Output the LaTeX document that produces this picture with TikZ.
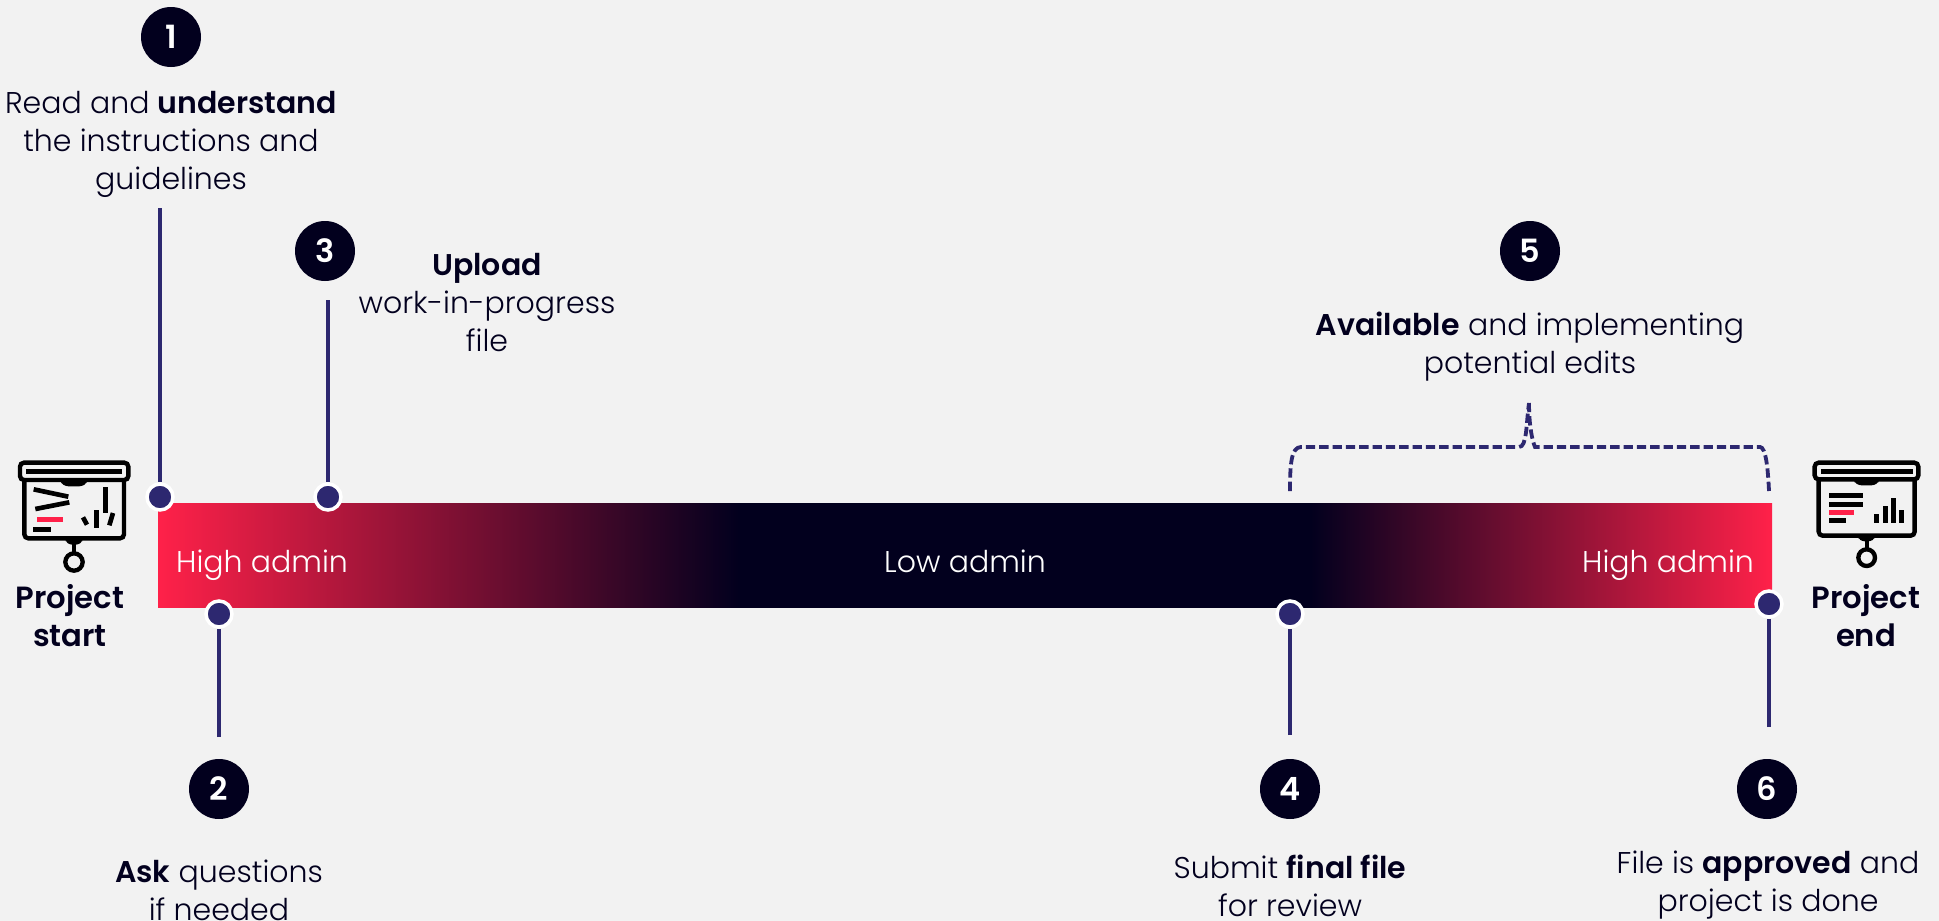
\documentclass[tikz,border=0pt]{standalone}
\usepackage{fontspec}
\setmainfont{Poppins Light}[BoldFont={Poppins SemiBold}]
\definecolor{bgc}{HTML}{F2F2F2}
\definecolor{inkc}{HTML}{02001E}
\definecolor{redc}{HTML}{FF2149}
\definecolor{navyc}{HTML}{2D2870}
\pgfdeclarehorizontalshading{barshade}{100bp}{color(0bp)=(redc); color(25bp)=(redc); color(43bp)=(inkc); color(60.69bp)=(inkc); color(75bp)=(redc); color(100bp)=(redc)}
\tikzset{
 badge/.style={circle,fill=inkc,text=white,minimum size=60*0.75pt,inner sep=0pt,font=\fontsize{24}{24}\selectfont\bfseries},
 dot/.style={circle,fill=navyc,draw=white,line width=3.5*0.75pt,minimum size=26*0.75pt,inner sep=0pt},
 stem/.style={draw=navyc,line width=4.8*0.75pt},
 dashline/.style={draw=navyc,line width=3.8*0.75pt,dash pattern=on 7pt off 3pt},
 txt/.style={text=inkc,align=center,inner sep=0pt,font=\fontsize{22.5}{28.5}\selectfont},
 bartxt/.style={text=white,inner sep=0pt,font=\fontsize{22.5}{28.5}\selectfont},
 ptxt/.style={text=inkc,align=center,inner sep=0pt,font=\fontsize{23}{28.5}\selectfont\bfseries},
 icl/.style={draw=black,line width=4.4*0.75pt,rounded corners=3pt},
 icf/.style={fill=black},
 icr/.style={fill=redc},
}
\begin{document}
\begin{tikzpicture}[x=0.75pt,y=-0.75pt]
\path[use as bounding box,fill=bgc] (0,0) rectangle (1939,921);
% bar
\shade[shading=barshade] (158,503) rectangle (1772,607);
\node[bartxt] (h1) at (262,565) {High admin};
\node[bartxt] (lo) at (965,561) {Low admin};
\node[bartxt] (h2) at (1668,565) {High admin};
% left icon
\begin{scope}[shift={(0,440)},x=0.25pt,y=-0.25pt]
\draw[icl] (73,120) -- (73,295) -- (372,295) -- (372,120);
\draw[icl,fill=bgc] (60,68) rectangle (385,120);
\fill[icf] (78,87) rectangle (366,103);
\fill[icf,rounded corners=2pt] (183,122) -- (260,122) -- (260,130) -- (245,139) -- (198,139) -- (183,130) -- cycle;
\draw[black,line width=14*0.25pt] (106,207) -- (208,187);
\draw[black,line width=14*0.25pt] (101,148) -- (205,170);
\fill[icr] (111,231) rectangle (189,245);
\fill[icf] (99,261) rectangle (153,275);
\fill[icf] (309,141) rectangle (324,218);
\fill[icf] (282,210) rectangle (297,264);
\draw[black,line width=14*0.25pt] (249,232) -- (261,254);
\draw[black,line width=14*0.25pt] (339,219) -- (328,256);
\fill[icf,rounded corners=2pt] (197,296) -- (247,296) -- (247,305) -- (235,314) -- (209,314) -- (197,305) -- cycle;
\draw[black,line width=13*0.25pt] (222,305) -- (222,340);
\draw[black,line width=13*0.25pt] (222,366) circle[radius=26];
\end{scope}
% right icon
\begin{scope}[shift={(1740,440)},x=0.25pt,y=-0.25pt]
\draw[icl] (236,118) -- (236,287) -- (524,287) -- (524,118);
\draw[icl,fill=bgc] (224,68) rectangle (535,118);
\fill[icf] (243,87) rectangle (519,103);
\fill[icf,rounded corners=2pt] (343,120) -- (416,120) -- (416,127) -- (402,136) -- (357,136) -- (343,127) -- cycle;
\fill[icf] (267,159) rectangle (369,175);
\fill[icf] (267,186) rectangle (369,202);
\fill[icr] (267,210) rectangle (342,226);
\fill[icf] (267,234) rectangle (318,249);
\fill[icf] (402,222) rectangle (417,249);
\fill[icf] (429,198) rectangle (444,249);
\fill[icf] (453,174) rectangle (468,249);
\fill[icf] (477,210) rectangle (492,249);
\fill[icf,rounded corners=2pt] (355,288) -- (404,288) -- (404,296) -- (392,304) -- (367,304) -- (355,296) -- cycle;
\draw[black,line width=13*0.25pt] (380,300) -- (380,328);
\draw[black,line width=13*0.25pt] (380,353) circle[radius=25];
\end{scope}
\node[ptxt] (ps) at (70,615.5) {Project\\start};
\node[ptxt] (pe) at (1866,615.5) {Project\\end};
% stem ends
\coordinate (e1) at (160,208);
\coordinate (e3) at (328,300);
\coordinate (e2) at (219,737);
\coordinate (e4) at (1290,735);
\coordinate (e6) at (1769,727);
\node[dot] (d1) at (160,497) {};
\node[dot] (d3) at (328,497) {};
\node[dot] (d2) at (219,614) {};
\node[dot] (d4) at (1290,614) {};
\node[dot] (d6) at (1769,604) {};
\draw[stem] (e1) -- (d1);
\draw[stem] (e3) -- (d3);
\draw[stem] (e2) -- (d2);
\draw[stem] (e4) -- (d4);
\draw[stem] (e6) -- (d6);
% badges
\node[badge] (b1) at (171,37) {1};
\node[badge] (b2) at (219,789) {2};
\node[badge] (b3) at (325,251) {3};
\node[badge] (b4) at (1290,789) {4};
\node[badge] (b5) at (1530,251) {5};
\node[badge] (b6) at (1767,789) {6};
% texts
\node[txt] (t1) at (171,144) {Read and \textbf{understand}\\the instructions and\\guidelines};
\node[txt] (t3) at (487,303) {\textbf{Upload}\\work-in-progress\\file};
\node[txt] (t5) at (1530,347) {\textbf{Available} and implementing\\potential edits};
\node[txt] (t2) at (219,890) {\textbf{Ask} questions\\if needed};
\node[txt] (t4) at (1290,886) {Submit \textbf{final file}\\for review};
\node[txt] (t6) at (1768,885) {File is \textbf{approved} and\\project is done};
% brace
\coordinate (bt) at (1529,403);
\coordinate (bl) at (1290,491);
\coordinate (br) at (1769,491);
\draw[dashline] (bl) .. controls (1290,465) and (1291,447) .. (1301,447) -- (1519,447) .. controls (1527,447) and (1526,425) .. (bt);
\draw[dashline] (br) .. controls (1768,470) and (1766,447) .. (1760,447) -- (1535,447) .. controls (1532,440) and (1529,425) .. (bt);
\end{tikzpicture}
\end{document}
